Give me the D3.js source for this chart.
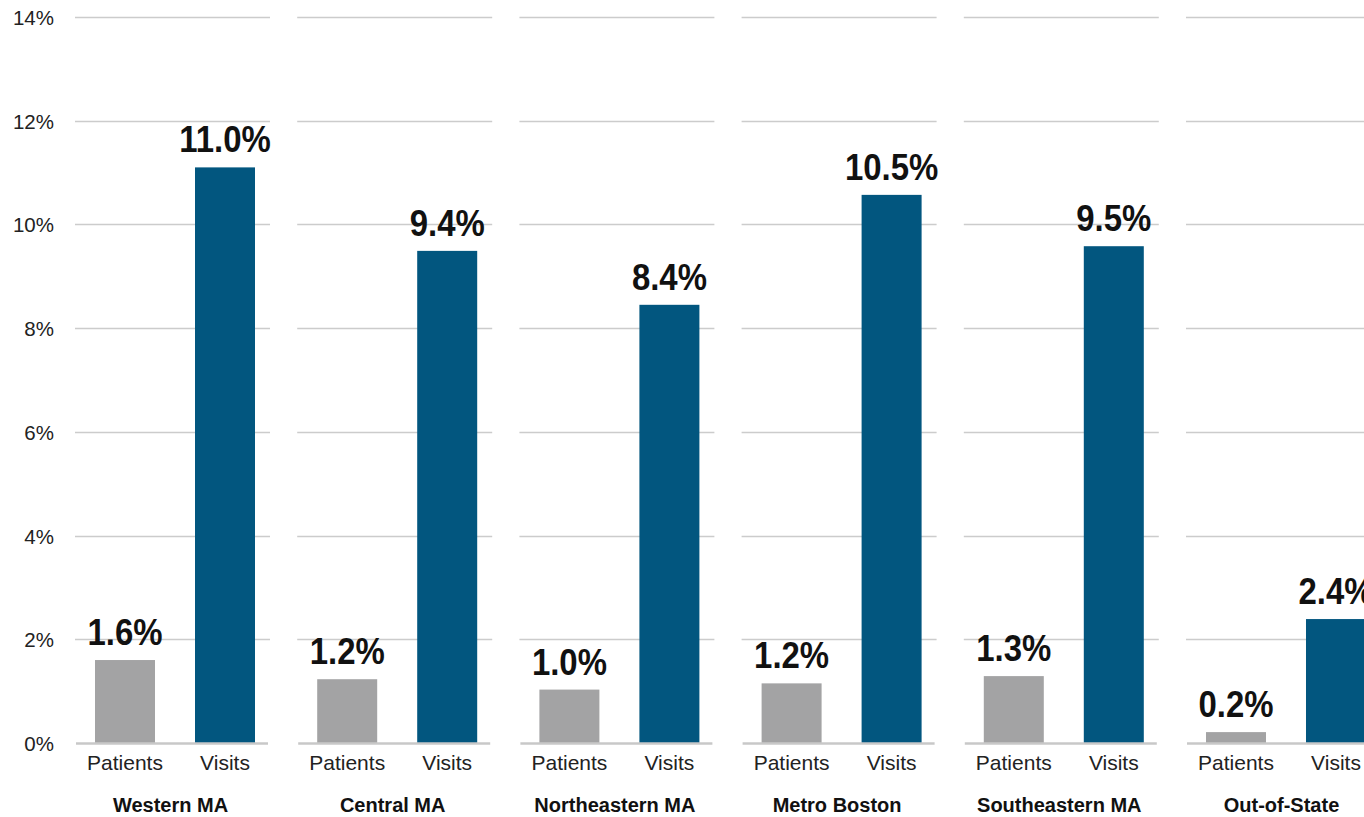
<!DOCTYPE html>
<html>
<head>
<meta charset="utf-8">
<script src="https://cdn.jsdelivr.net/npm/d3@7"></script>
<style>
  html, body { margin: 0; padding: 0; background: #fff; }
  svg { display: block; }
</style>
</head>
<body>
<svg id="chart" width="1364" height="817"></svg>
<script>
// ---- data ----
const regions = ["Western MA", "Central MA", "Northeastern MA", "Metro Boston", "Southeastern MA", "Out-of-State"];
const measures = ["Patients", "Visits"];
const patientsValues = [1.6, 1.23, 1.03, 1.15, 1.29, 0.21];
const visitsValues = [11.1, 9.49, 8.45, 10.57, 9.58, 2.39];
const patientsLabels = ["1.6%", "1.2%", "1.0%", "1.2%", "1.3%", "0.2%"];
const visitsLabels = ["11.0%", "9.4%", "8.4%", "10.5%", "9.5%", "2.4%"];
const yTicks = [0, 2, 4, 6, 8, 10, 12, 14];
const yTickLabels = ["0%", "2%", "4%", "6%", "8%", "10%", "12%", "14%"];

const colors = { Patients: "#a3a3a4", Visits: "#02567f" };
const FONT = "'Liberation Sans', Arial, Helvetica, sans-serif";

const svg = d3.select("#chart");

const y = d3.scaleLinear().domain([0, 14]).range([743, 17]);
const x0 = d3.scaleBand().domain(regions).range([75, 1381]).paddingInner(0.1224).paddingOuter(0);
const x1 = d3.scaleBand().domain(measures).range([0, 200]).paddingInner(0.4).paddingOuter(0.2);

const rows = regions.map((r, i) => ({
  region: r,
  items: [
    { m: "Patients", v: patientsValues[i], label: patientsLabels[i] },
    { m: "Visits", v: visitsValues[i], label: visitsLabels[i] }
  ]
}));

// y tick labels
svg.append("g").selectAll("text").data(yTicks).join("text")
  .attr("x", 54)
  .attr("y", d => y(d) + 8)
  .attr("text-anchor", "end")
  .attr("font-family", FONT)
  .attr("font-size", 20.5)
  .attr("fill", "#222")
  .text((d, i) => yTickLabels[i]);

const panels = svg.append("g").selectAll("g.panel").data(rows).join("g")
  .attr("class", "panel")
  .attr("transform", d => `translate(${x0(d.region)},0)`);

// gridlines
panels.each(function() {
  d3.select(this).append("g").selectAll("line").data(yTicks.filter(t => t > 0)).join("line")
    .attr("x1", 0).attr("x2", x0.bandwidth())
    .attr("y1", d => Math.round(y(d)) + 0.5).attr("y2", d => Math.round(y(d)) + 0.5)
    .attr("stroke", "#cccccc").attr("stroke-width", 1.3);
});

// bars
panels.selectAll("rect").data(d => d.items).join("rect")
  .attr("x", d => x1(d.m))
  .attr("width", x1.bandwidth())
  .attr("y", d => y(d.v))
  .attr("height", d => y(0) - y(d.v))
  .attr("fill", d => colors[d.m]);

// baseline
panels.append("line")
  .attr("x1", 1).attr("x2", x0.bandwidth() - 2)
  .attr("y1", y(0) + 0.5).attr("y2", y(0) + 0.5)
  .attr("stroke", "#c8c8c8").attr("stroke-width", 2.5);

// value labels (horizontally condensed)
panels.selectAll("text.val").data(d => d.items).join("text")
  .attr("class", "val")
  .attr("transform", d => `translate(${x1(d.m) + x1.bandwidth() / 2},${y(d.v) - 15}) scale(0.89,1)`)
  .attr("text-anchor", "middle")
  .attr("font-family", FONT)
  .attr("font-weight", "bold")
  .attr("font-size", 37)
  .attr("fill", "#111")
  .text(d => d.label);

// measure labels
panels.selectAll("text.cat").data(d => d.items).join("text")
  .attr("class", "cat")
  .attr("x", d => x1(d.m) + x1.bandwidth() / 2)
  .attr("y", 770)
  .attr("text-anchor", "middle")
  .attr("font-family", FONT)
  .attr("font-size", 21)
  .attr("fill", "#222")
  .text(d => d.m);

// region labels
panels.append("text")
  .attr("x", x0.bandwidth() / 2 - 2)
  .attr("y", 812)
  .attr("text-anchor", "middle")
  .attr("font-family", FONT)
  .attr("font-weight", "bold")
  .attr("font-size", 20)
  .attr("fill", "#111")
  .text(d => d.region);
</script>
</body>
</html>
